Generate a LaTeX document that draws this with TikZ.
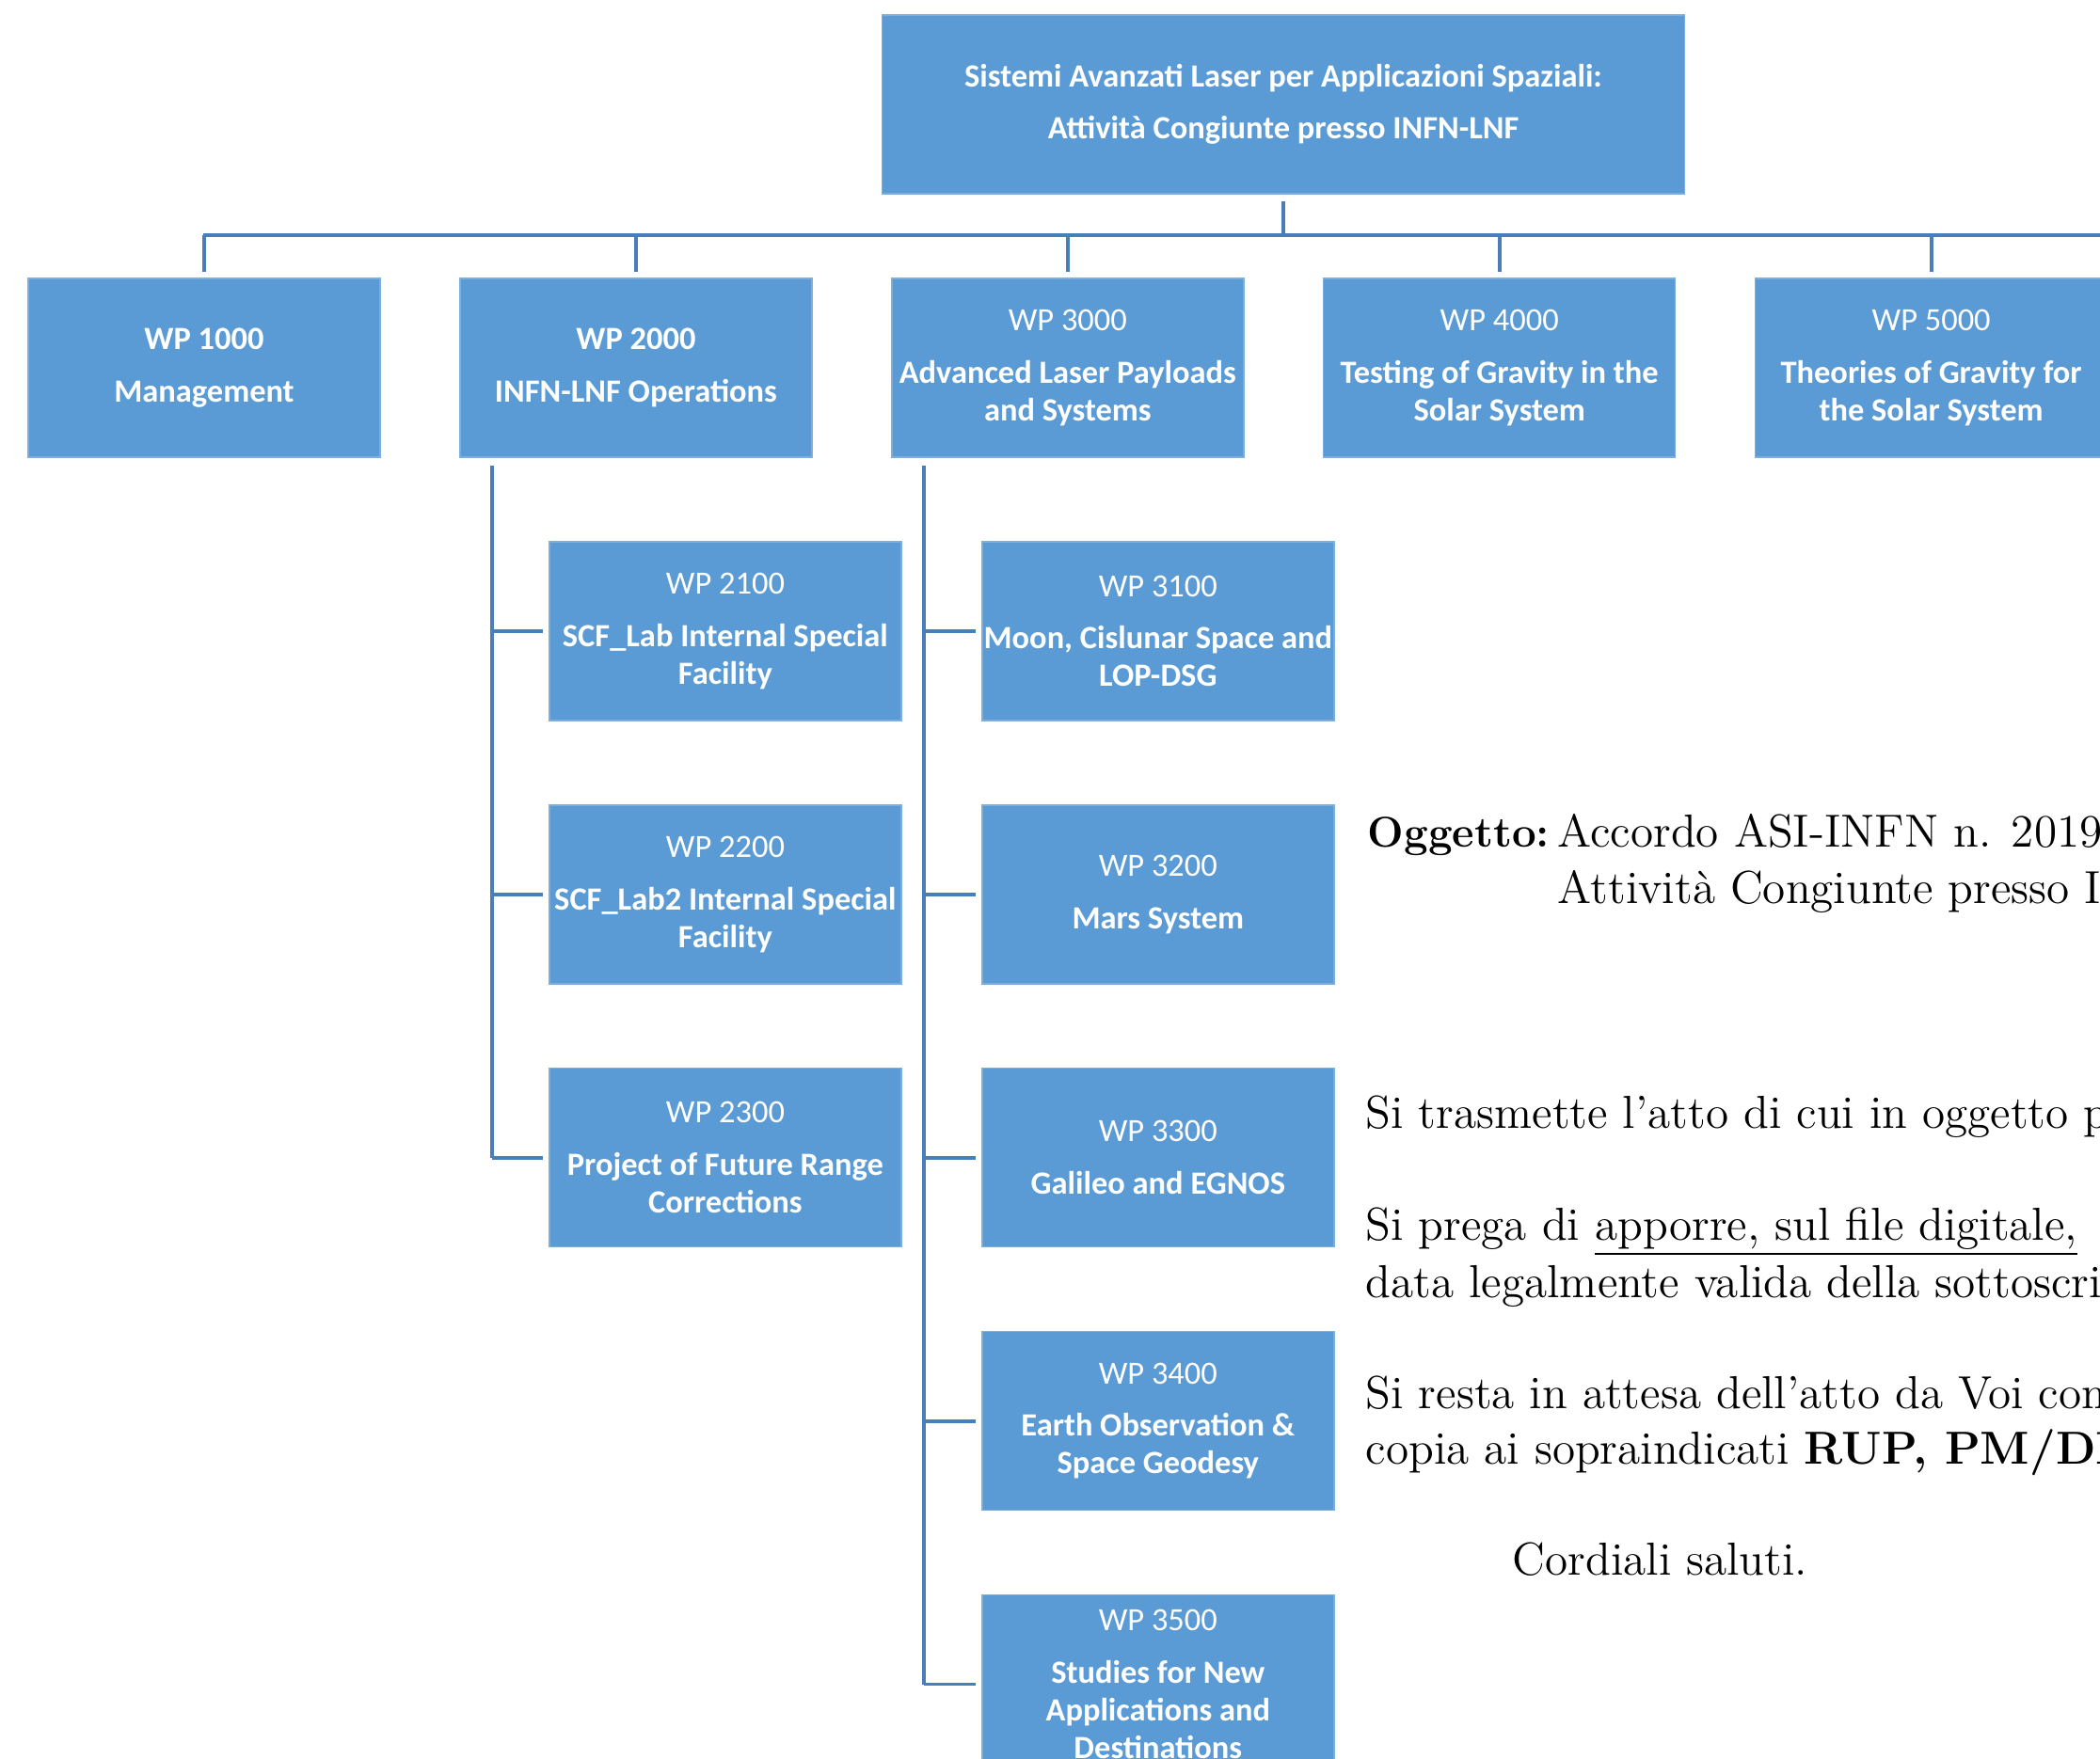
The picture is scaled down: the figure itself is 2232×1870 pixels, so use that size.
\documentclass[tikz,border=0pt]{standalone}
\usepackage{fontspec}
\newfontfamily\calibri{Carlito}
\usetikzlibrary{positioning}
\definecolor{boxblue}{HTML}{5B9BD5}
\definecolor{lineblue}{HTML}{4A7EBB}

\begin{document}
\begin{tikzpicture}[x=0.1mm,y=-0.1mm]
			\def\wpfont{\calibri\fontsize{9.8}{11.4}\selectfont}
			\def\gap{\\[4.4pt]}
			\def\wpnum#1{{\mdseries #1}\gap}
			\tikzset{wpbox/.style={fill=boxblue, draw=boxblue!80!white, text=white, align=center, inner sep=0pt, minimum width=37.4mm, minimum height=19mm, font=\wpfont\bfseries},
				conn/.style={draw=lineblue, line width=1.1pt},
				letter/.style={anchor=base west, inner sep=0pt, font=\fontsize{14}{17}\selectfont}}
			\useasboundingbox (0,0) rectangle (2232,1870);
			\clip (0,0) rectangle (2232,1870);
			\node[wpbox, minimum width=85.3mm] (top) at (1364,111) {Sistemi Avanzati Laser per Applicazioni Spaziali:\gap Attività Congiunte presso INFN-LNF};
			\node[wpbox] (wp1) at (217,391) {WP 1000\gap Management};
			\node[wpbox, right=8.35mm of wp1] (wp2) {WP 2000\gap INFN-LNF Operations};
			\node[wpbox, right=8.35mm of wp2] (wp3) {\wpnum{WP 3000}Advanced Laser Payloads\\and Systems};
			\node[wpbox, right=8.35mm of wp3] (wp4) {\wpnum{WP 4000}Testing of Gravity in the\\Solar System};
			\node[wpbox, right=8.35mm of wp4] (wp5) {\wpnum{WP 5000}Theories of Gravity for\\the Solar System};
			\node[wpbox, below=8.85mm of wp2, xshift=9.5mm] (wp21) {\wpnum{WP 2100}SCF\_Lab Internal Special\\Facility};
			\node[wpbox, below=8.85mm of wp21] (wp22) {\wpnum{WP 2200}SCF\_Lab2 Internal Special\\Facility};
			\node[wpbox, below=8.85mm of wp22] (wp23) {\wpnum{WP 2300}Project of Future Range\\Corrections};
			\node[wpbox, below=8.85mm of wp3, xshift=9.6mm] (wp31) {\wpnum{WP 3100}Moon, Cislunar Space and\\LOP-DSG};
			\node[wpbox, below=8.85mm of wp31] (wp32) {\wpnum{WP 3200}Mars System};
			\node[wpbox, below=8.85mm of wp32] (wp33) {\wpnum{WP 3300}Galileo and EGNOS};
			\node[wpbox, below=8.85mm of wp33] (wp34) {\wpnum{WP 3400}Earth Observation \&\\Space Geodesy};
			\node[wpbox, below=8.85mm of wp34] (wp35) {\wpnum{WP 3500}Studies for New\\Applications and\\Destinations};
			\coordinate (bar) at (216,250);
			\coordinate (barend) at (2240,250);
			\draw[conn] ([yshift=-0.7mm]top.south) -- (top.south |- bar);
			\draw[conn] (bar) -- (barend);
			\foreach \i in {1,...,5}{
				\draw[conn] (wp\i.north |- bar) -- ([yshift=0.6mm]wp\i.north);
			}
			\coordinate (s2) at ([xshift=3.5mm,yshift=-0.8mm]wp2.south west);
			\coordinate (s3) at ([xshift=3.5mm,yshift=-0.8mm]wp3.south west);
			\draw[conn] (s2) -- (s2 |- wp23.west);
			\draw[conn] (s3) -- (s3 |- wp35.west);
			\foreach \c in {21,22,23}{
				\draw[conn] (s2 |- wp\c.west) -- ([xshift=-0.6mm]wp\c.west);
			}
			\foreach \c in {31,...,35}{
				\draw[conn] (s3 |- wp\c.west) -- ([xshift=-0.6mm]wp\c.west);
			}
			\node[letter, font=\fontsize{13}{17}\selectfont\bfseries] (ogg) at (1453,901) {Oggetto:};
			\node[letter] (acc1) at (1655,901) {Accordo ASI-INFN n. 2019-};
			\node[letter] (acc2) at (1655,961) {Attività Congiunte presso I};
			\node[letter] (par1) at (1451,1199) {Si trasmette l’atto di cui in oggetto pe};
			\node[letter] (par2) at (1451,1318) {Si prega di \underline{apporre, sul file digitale,}};
			\node[letter] (par3) at (1451,1379) {data legalmente valida della sottoscri};
			\node[letter] (par4) at (1451,1497) {Si resta in attesa dell’atto da Voi cont};
			\node[letter] (par5) at (1451,1556) {copia ai sopraindicati \textbf{RUP, PM/DEC}};
			\node[letter] (sal) at (1607,1674) {Cordiali saluti.};
		\end{tikzpicture}
\end{document}
